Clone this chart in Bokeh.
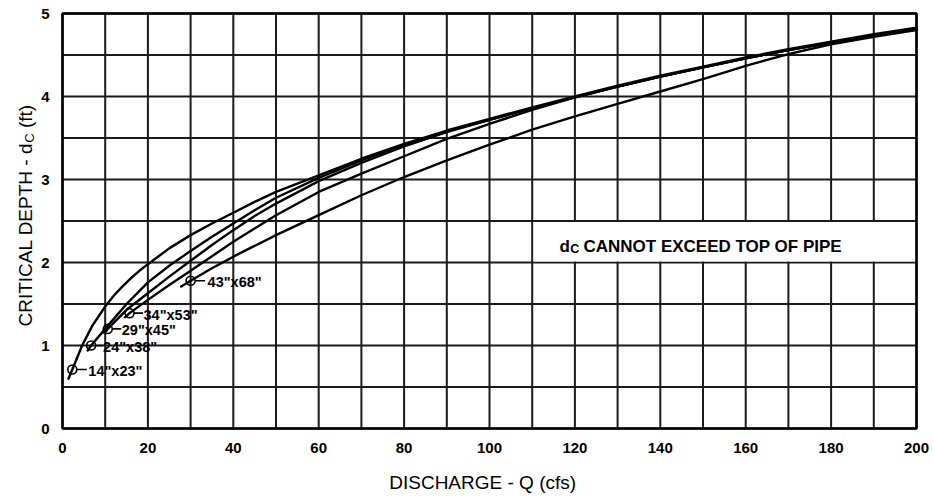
import math
from bokeh.plotting import figure
from bokeh.models import Range1d, Label, FixedTicker
from bokeh.embed import file_html
from bokeh.resources import INLINE

# ---------------- data ----------------
pipe_names = ['14"x23"', '24"x38"', '29"x45"', '34"x53"', '43"x68"']

q_14x23 = [1.4, 2.3, 4.6, 7, 10, 12, 14, 16, 18, 20, 25, 30, 35, 40, 45, 50, 60, 70, 80, 90, 100, 110, 120, 130, 140, 150, 160, 170, 180, 190, 200]
d_14x23 = [0.60, 0.71, 1.00, 1.24, 1.47, 1.60, 1.71, 1.81, 1.90, 1.98, 2.17, 2.33, 2.47, 2.60, 2.73, 2.85, 3.05, 3.25, 3.43, 3.59, 3.73, 3.87, 4.00, 4.13, 4.25, 4.36, 4.47, 4.57, 4.66, 4.75, 4.83]

q_24x38 = [5.9, 6.7, 10, 15, 20, 25, 30, 35, 40, 45, 50, 60, 70, 80, 90, 100, 110, 120, 130, 140, 150, 160, 170, 180, 190, 200]
d_24x38 = [0.94, 1.00, 1.20, 1.50, 1.76, 1.96, 2.14, 2.31, 2.47, 2.63, 2.78, 3.02, 3.23, 3.42, 3.58, 3.72, 3.86, 3.99, 4.12, 4.24, 4.35, 4.46, 4.56, 4.65, 4.74, 4.82]

q_29x45 = [9.8, 10.6, 15, 20, 25, 30, 35, 40, 45, 50, 60, 70, 80, 90, 100, 110, 120, 130, 140, 150, 160, 170, 180, 190, 200]
d_29x45 = [1.15, 1.20, 1.43, 1.63, 1.83, 2.02, 2.21, 2.39, 2.56, 2.71, 2.98, 3.20, 3.40, 3.57, 3.72, 3.86, 3.99, 4.12, 4.24, 4.35, 4.46, 4.56, 4.65, 4.74, 4.82]

q_34x53 = [14.6, 15.7, 20, 25, 30, 40, 50, 60, 70, 80, 90, 100, 110, 120, 130, 140, 150, 160, 170, 180, 190, 200]
d_34x53 = [1.34, 1.39, 1.55, 1.73, 1.90, 2.25, 2.57, 2.85, 3.07, 3.28, 3.49, 3.67, 3.84, 3.99, 4.12, 4.24, 4.35, 4.46, 4.56, 4.65, 4.74, 4.82]

q_43x68 = [27.8, 30, 35, 40, 50, 60, 70, 80, 90, 100, 110, 120, 130, 140, 150, 160, 170, 180, 190, 200]
d_43x68 = [1.71, 1.78, 1.93, 2.07, 2.33, 2.57, 2.81, 3.03, 3.23, 3.42, 3.60, 3.76, 3.91, 4.06, 4.21, 4.37, 4.51, 4.63, 4.72, 4.80]

# labelled start points of each curve (circle markers)
start_q = [2.3, 6.7, 10.6, 15.7, 30.0]
start_d = [0.71, 1.00, 1.20, 1.39, 1.78]

x_ticks = [0, 20, 40, 60, 80, 100, 120, 140, 160, 180, 200]
y_ticks = [0, 1, 2, 3, 4, 5]
x_grid = list(range(0, 201, 10))
y_grid = [i * 0.5 for i in range(11)]
Q_MAX, D_MAX = 200, 5

# ---------------- geometry of the plotting area ----------------
W, H = 932, 495
PX_X = 4.27   # px per discharge unit
PX_Y = 83.0   # px per depth unit
LEFT, TOP = 62, 13   # pixel position of (0, 5)
x_lo = -LEFT / PX_X
x_hi = (W - LEFT) / PX_X
y_hi = D_MAX + TOP / PX_Y
y_lo = D_MAX - (H - TOP) / PX_Y

FONT = "Liberation Sans"

p = figure(width=W, height=H, output_backend="svg", toolbar_location=None,
           x_range=Range1d(x_lo, x_hi), y_range=Range1d(y_lo, y_hi),
           min_border=0, min_border_left=0, min_border_right=0,
           min_border_top=0, min_border_bottom=0,
           background_fill_color="white", border_fill_color="white")
p.outline_line_color = None
p.xgrid.grid_line_color = None
p.ygrid.grid_line_color = None

# grid lines (drawn through the data scales)
p.segment(x0=x_grid, y0=[0] * len(x_grid), x1=x_grid, y1=[D_MAX] * len(x_grid),
          line_color="#1a1a1a", line_width=2)
p.segment(x0=[0] * len(y_grid), y0=y_grid, x1=[Q_MAX] * len(y_grid), y1=y_grid,
          line_color="#1a1a1a", line_width=2)

# white box behind the note (covers the grid)
p.quad(left=[110.35], right=[199.7], bottom=[2.012], top=[2.488],
       fill_color="white", line_color=None)

# frame
p.quad(left=[0], right=[Q_MAX], bottom=[0], top=[D_MAX],
       fill_color=None, line_color="black", line_width=2.5)

# axes at the frame edges
p.xaxis.fixed_location = 0
p.yaxis.fixed_location = 0
for ax in (p.xaxis, p.yaxis):
    ax.axis_line_color = None
    ax.major_tick_line_color = None
    ax.minor_tick_line_color = None
    ax.major_label_text_font = FONT
    ax.major_label_text_font_style = "bold"
    ax.major_label_text_font_size = "15px"
    ax.major_label_text_color = "black"
p.xaxis.ticker = FixedTicker(ticks=x_ticks)
p.yaxis.ticker = FixedTicker(ticks=y_ticks)
p.xaxis.major_label_standoff = 8
p.yaxis.major_label_standoff = 7

# curves
curves = [(q_14x23, d_14x23), (q_24x38, d_24x38), (q_29x45, d_29x45),
          (q_34x53, d_34x53), (q_43x68, d_43x68)]
for qs, ds in curves:
    p.line(qs, ds, line_color="black", line_width=2.4, line_join="round", line_cap="round")

# start circles
p.scatter(start_q, start_d, marker="circle", size=9, fill_alpha=0,
          line_color="black", line_width=1.6)

# leader lines + pipe labels
lead_len = [10, 7, 9, 9, 10]
text_off = [16, 12, 14, 14, 17]
for name, q0, d0, ll, to in zip(pipe_names, start_q, start_d, lead_len, text_off):
    x0 = q0 + 4.5 / PX_X
    x1 = q0 + (4.5 + ll) / PX_X
    p.segment(x0=[x0], y0=[d0], x1=[x1], y1=[d0], line_color="black", line_width=1.6)
    p.add_layout(Label(x=q0 + to / PX_X, y=d0 - 1.5 / PX_Y, text=name,
                       text_font=FONT, text_font_style="bold", text_font_size="14.5px",
                       text_baseline="middle", text_align="left", text_color="black"))

# note inside the plot: d_C CANNOT EXCEED TOP OF PIPE
p.add_layout(Label(x=116.4, y=2.193, text="d", text_font=FONT, text_font_style="bold",
                   text_font_size="17px", text_baseline="alphabetic", text_color="black"))
p.add_layout(Label(x=118.9, y=2.160, text="C", text_font=FONT, text_font_style="bold",
                   text_font_size="12.5px", text_baseline="alphabetic", text_color="black"))
p.add_layout(Label(x=122.0, y=2.193, text="CANNOT EXCEED TOP OF PIPE", text_font=FONT,
                   text_font_style="bold", text_font_size="17px",
                   text_baseline="alphabetic", text_color="black"))

# x axis title
p.add_layout(Label(x=98.4, y=-0.645, text="DISCHARGE - Q (cfs)", text_font=FONT,
                   text_font_size="19px", text_align="center", text_baseline="alphabetic",
                   text_color="black"))

# y axis title (rotated) : CRITICAL DEPTH - d_C (ft)
ang = math.pi / 2
YL_X = -8.7
p.add_layout(Label(x=YL_X, y=1.229, angle=ang, text="CRITICAL DEPTH - d", text_font=FONT,
                   text_font_size="19px", text_align="left", text_baseline="alphabetic",
                   text_color="black"))
p.add_layout(Label(x=YL_X + 0.95, y=3.442, angle=ang, text="C", text_font=FONT,
                   text_font_size="13px", text_align="left", text_baseline="alphabetic",
                   text_color="black"))
p.add_layout(Label(x=YL_X, y=3.62, angle=ang, text="(ft)", text_font=FONT,
                   text_font_size="19px", text_align="left", text_baseline="alphabetic",
                   text_color="black"))

open("out.html", "w").write(file_html(p, INLINE))
